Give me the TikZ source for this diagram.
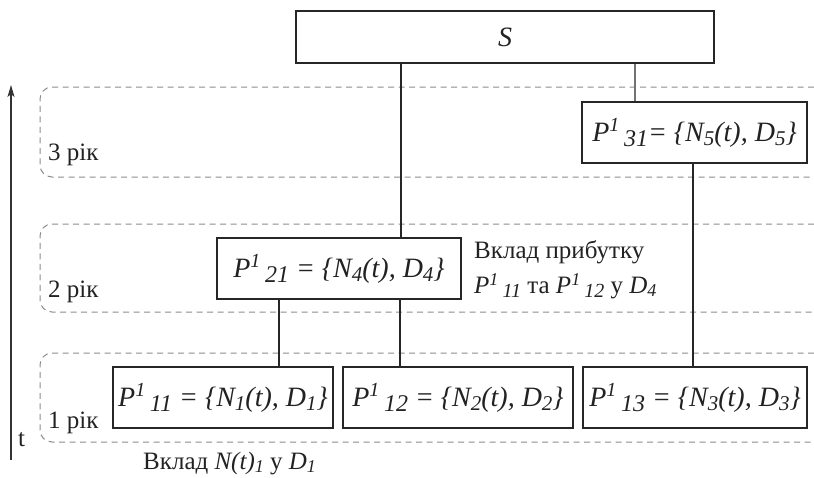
\documentclass[tikz,border=0pt]{standalone}
\usepackage{fontspec}
\setmainfont{Liberation Serif}
\usetikzlibrary{arrows.meta}
\newcommand{\Psup}[2]{P\raisebox{10pt}{\fontsize{20}{20}\selectfont #1}\,\raisebox{-5pt}{\fontsize{24}{24}\selectfont #2}}
\newcommand{\sbx}[1]{\raisebox{-4pt}{\fontsize{21}{21}\selectfont #1}}
\newcommand{\Psm}[2]{P\raisebox{8pt}{\fontsize{18}{18}\selectfont #1}\,\raisebox{-4pt}{\fontsize{20}{20}\selectfont #2}}
\newcommand{\sbs}[1]{\raisebox{-3pt}{\fontsize{18}{18}\selectfont #1}}
\definecolor{txt}{HTML}{222222}
\definecolor{bandc}{HTML}{8C8C8C}
\tikzset{
  box/.style={draw=black!85, line width=1.4pt, fill=white, inner sep=0pt,
    font=\fontsize{28}{30}\selectfont\itshape, text=txt},
  band/.style={draw=bandc, line width=1pt, dash pattern=on 6pt off 4.5pt, rounded corners=12pt},
  conn/.style={draw=black!85, line width=1.2pt},
  lbl/.style={font=\fontsize{25}{28}\selectfont, text=txt, inner sep=0pt, anchor=base west}
}
\begin{document}
\begin{tikzpicture}[x=1pt,y=-1pt]
\useasboundingbox (0,0) rectangle (814,477);
% bands
\draw[band] (814,87) -- (40,87) -- (40,177) -- (814,177);
\draw[band] (814,224) -- (40,224) -- (40,312) -- (814,312);
\draw[band] (814,353) -- (40,353) -- (40,442) -- (814,442);
% time arrow
\coordinate (tb) at (11,460);
\coordinate (tt) at (11,85);
\draw[line width=1.3pt, black!80, -{Stealth[length=12pt,width=7pt,inset=3pt]}] (tb) -- (tt);
% nodes
\node[box, minimum width=418pt, minimum height=52pt] (S) at (505,37) {S};
\node[box, minimum width=225pt, minimum height=61pt] (P31) at (694.5,132.5) {\Psup{1}{31}= \{N\sbx{5}(t), D\sbx{5}\}};
\node[box, minimum width=244pt, minimum height=61pt] (P21) at (339,268.5) {\Psup{1}{21} = \{N\sbx{4}(t), D\sbx{4}\}};
\node[box, minimum width=220pt, minimum height=61pt] (P11) at (223,397.5) {\Psup{1}{11} = \{N\sbx{1}(t), D\sbx{1}\}};
\node[box, minimum width=230pt, minimum height=61pt] (P12) at (458,397.5) {\Psup{1}{12} = \{N\sbx{2}(t), D\sbx{2}\}};
\node[box, minimum width=224pt, minimum height=61pt] (P13) at (695,397.5) {\Psup{1}{13} = \{N\sbx{3}(t), D\sbx{3}\}};
% connectors
\coordinate (xa) at (401,0);
\coordinate (xb) at (635,0);
\coordinate (xc) at (693,0);
\coordinate (xd) at (279,0);
\coordinate (xe) at (400,0);
\draw[conn] (S.south -| xa) -- (P21.north -| xa);
\draw[conn, draw=black!55] (S.south -| xb) -- (P31.north -| xb);
\draw[conn] (P31.south -| xc) -- (P13.north -| xc);
\draw[conn] (P21.south -| xd) -- (P11.north -| xd);
\draw[conn] (P21.south -| xe) -- (P12.north -| xe);
% labels
\node[lbl] (l3) at (48,160) {3 рік};
\node[lbl] (l2) at (48,297) {2 рік};
\node[lbl] (l1) at (48,428) {1 рік};
\node[lbl] (lt) at (18,446) {t};
\node[lbl] (a1) at (474,258) {Вклад прибутку};
\node[lbl] (a2) at (474,293) {\itshape\Psm{1}{11}\upshape\ та \itshape\Psm{1}{12}\upshape\ у \itshape D\sbs{4}};
\node[lbl] (a3) at (143,469) {Вклад \itshape N(t)\sbs{1}\upshape\ у \itshape D\sbs{1}};
\end{tikzpicture}
\end{document}
